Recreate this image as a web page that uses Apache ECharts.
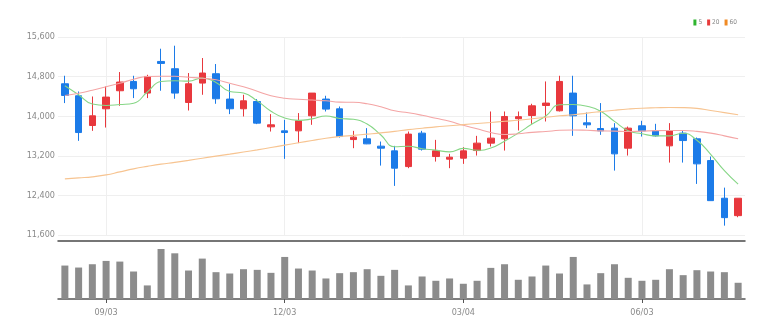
<!DOCTYPE html>
<html>
<head>
<meta charset="utf-8">
<script src="https://cdn.jsdelivr.net/npm/echarts@6/dist/echarts.min.js"></script>
<style>
html,body{margin:0;padding:0;background:#fff;}
#chart{width:782px;height:336px;}
</style>
</head>
<body>
<div id="chart"></div>
<script>
const dates = ['08/13','08/20','08/27','09/03','09/10','09/17','09/24','10/01','10/08','10/15','10/22','10/29','11/05','11/12','11/19','11/26','12/03','12/10','12/17','12/24','12/31','01/07','01/14','01/21','01/28','02/04','02/11','02/18','02/25','03/04','03/11','03/18','03/25','04/01','04/08','04/15','04/22','04/29','05/06','05/13','05/20','05/27','06/03','06/10','06/17','06/24','07/01','07/08','07/15','07/22'];
const openP  = [14655,14413,13812,14149,14514,14702,14467,15106,14959,14277,14669,14858,14346,14150,14297,13785,13704,13704,14008,14346,14149,13528,13543,13395,13300,12982,13658,13185,13132,13152,13306,13456,13543,13950,14014,14216,14109,14467,13866,13751,13759,13354,13806,13704,13401,13658,13543,13104,12343,11991];
const closeP = [14419,13670,14008,14386,14690,14554,14803,15066,14467,14655,14872,14352,14150,14311,13860,13826,13670,13907,14467,14143,13589,13577,13441,13354,12950,13638,13334,13300,13172,13300,13456,13557,13994,13990,14210,14265,14702,14008,13826,13704,13239,13759,13704,13603,13711,13508,13037,12294,11951,12343];
const lowP   = [14265,13502,13704,13771,14210,14366,14366,14514,14352,14115,14433,14251,14042,13994,13840,13690,13138,13456,13826,14095,13569,13354,13435,13002,12592,12950,13306,13083,12950,13037,13205,13387,13306,13711,13846,13893,14095,13603,13759,13623,12901,13205,13589,13589,13063,13063,12632,12294,11789,11959];
const highP  = [14817,14499,14398,14601,14892,14817,14837,15363,15424,14872,15175,15054,14649,14433,14346,14042,13927,14063,14467,14413,14196,13704,13759,13488,13401,13690,13704,13522,13239,13375,13603,14095,14095,14095,14251,14702,14817,14817,14075,14265,13860,13791,13907,13846,13860,13711,13569,13185,12557,12343];
const ma5  = [14615,14433,14245,14216,14235,14262,14488,14700,14716,14709,14773,14682,14499,14468,14309,14100,13963,13915,13946,14003,13955,13937,13843,13621,13382,13392,13343,13315,13279,13349,13312,13357,13496,13659,13841,14003,14232,14235,14202,14101,13896,13707,13646,13602,13603,13657,13513,13231,12900,12627];
const ma20 = [14419,14463,14524,14595,14665,14746,14803,14807,14807,14787,14767,14736,14665,14595,14504,14413,14362,14342,14326,14311,14285,14281,14251,14190,14109,14069,14018,13957,13897,13816,13745,13670,13630,13644,13674,13690,13715,13721,13715,13704,13698,13690,13698,13708,13711,13711,13694,13658,13603,13543];
const ma60 = [12733,12754,12774,12814,12875,12936,12986,13031,13067,13108,13152,13193,13233,13276,13320,13367,13415,13462,13510,13555,13589,13613,13638,13664,13694,13729,13757,13785,13806,13830,13852,13874,13897,13919,13947,13978,14008,14028,14063,14093,14121,14145,14162,14170,14176,14174,14158,14115,14073,14028];
const volume = [101,95,105,115,113,83,41,151,138,86,122,81,77,90,88,79,127,92,86,62,78,81,90,70,88,41,68,55,62,46,55,94,105,58,68,101,77,127,44,78,105,64,55,58,90,72,87,83,81,49];
const yTicks = [11600,12400,13200,14000,14800,15600];
const legendNames = ['5','20','60'];

const UP = '#e8383d', DOWN = '#1c7be8';
const FONT = "'Liberation Sans Narrow','DejaVu Sans Condensed',sans-serif";
const labelIdx = (i) => (i - 3) % 13 === 0;

const chart = echarts.init(document.getElementById('chart'), null, {renderer:'canvas'});
const candleData = dates.map((d,i)=>[openP[i], closeP[i], lowP[i], highP[i]]);

chart.setOption({
  animation:false,
  backgroundColor:'#fff',
  legend:{
    right:45, top:19, padding:0,
    icon:'rect', itemWidth:3, itemHeight:6, itemGap:5,
    textStyle:{fontSize:6.5, color:'#888', fontFamily:FONT, padding:[0,0,0,-3]},
    data:[
      {name:legendNames[0], itemStyle:{color:'#2fb52f'}},
      {name:legendNames[1], itemStyle:{color:'#e83b3b'}},
      {name:legendNames[2], itemStyle:{color:'#f08a24'}}
    ]
  },
  grid:[
    {left:58, right:37, top:37, height:198},
    {left:58, right:37, top:249, height:50}
  ],
  xAxis:[
    {type:'category', gridIndex:0, data:dates, boundaryGap:true,
     offset:6,
     axisLine:{show:true, lineStyle:{color:'#4a4a4a', width:1.5}},
     axisTick:{show:false}, axisLabel:{show:false},
     splitLine:{show:true, interval:labelIdx, alignWithLabel:true, lineStyle:{color:'#efefef', width:1}}},
    {type:'category', gridIndex:1, data:dates, boundaryGap:true,
     axisLine:{show:true, lineStyle:{color:'#555', width:1.5}},
     axisTick:{show:true, interval:labelIdx, alignWithLabel:true, length:4, lineStyle:{color:'#555'}},
     axisLabel:{show:true, interval:labelIdx, color:'#8a8a8a', fontSize:9, fontFamily:FONT, margin:9},
     splitLine:{show:false}}
  ],
  yAxis:[
    {type:'value', gridIndex:0, min:yTicks[0], max:yTicks[yTicks.length-1], interval:800,
     axisLine:{show:false}, axisTick:{show:false},
     axisLabel:{color:'#8a8a8a', fontSize:9, fontFamily:FONT, margin:3,
       formatter:(v)=>v.toLocaleString('en-US')},
     splitLine:{lineStyle:{color:'#efefef', width:1}}},
    {type:'value', gridIndex:1, min:0, max:151,
     axisLine:{show:false}, axisTick:{show:false}, axisLabel:{show:false}, splitLine:{show:false}}
  ],
  series:[
    {name:'candle', type:'candlestick', xAxisIndex:0, yAxisIndex:0, data:candleData, barWidth:7,
     itemStyle:{color:UP, color0:DOWN, borderColor:UP, borderColor0:DOWN, borderWidth:1}},
    {name:legendNames[0], type:'line', xAxisIndex:0, yAxisIndex:0, data:ma5, smooth:true, symbol:'none',
     itemStyle:{color:'#2fb52f'}, lineStyle:{color:'#86d686', width:1.1}},
    {name:legendNames[1], type:'line', xAxisIndex:0, yAxisIndex:0, data:ma20, smooth:true, symbol:'none',
     itemStyle:{color:'#e83b3b'}, lineStyle:{color:'#f4a5a5', width:1.1}},
    {name:legendNames[2], type:'line', xAxisIndex:0, yAxisIndex:0, data:ma60, smooth:true, symbol:'none',
     itemStyle:{color:'#f08a24'}, lineStyle:{color:'#f7c491', width:1.1}},
    {name:'vol', type:'bar', xAxisIndex:1, yAxisIndex:1, data:volume, barWidth:7,
     itemStyle:{color:'#8c8c8c'}}
  ]
});
</script>
</body>
</html>
